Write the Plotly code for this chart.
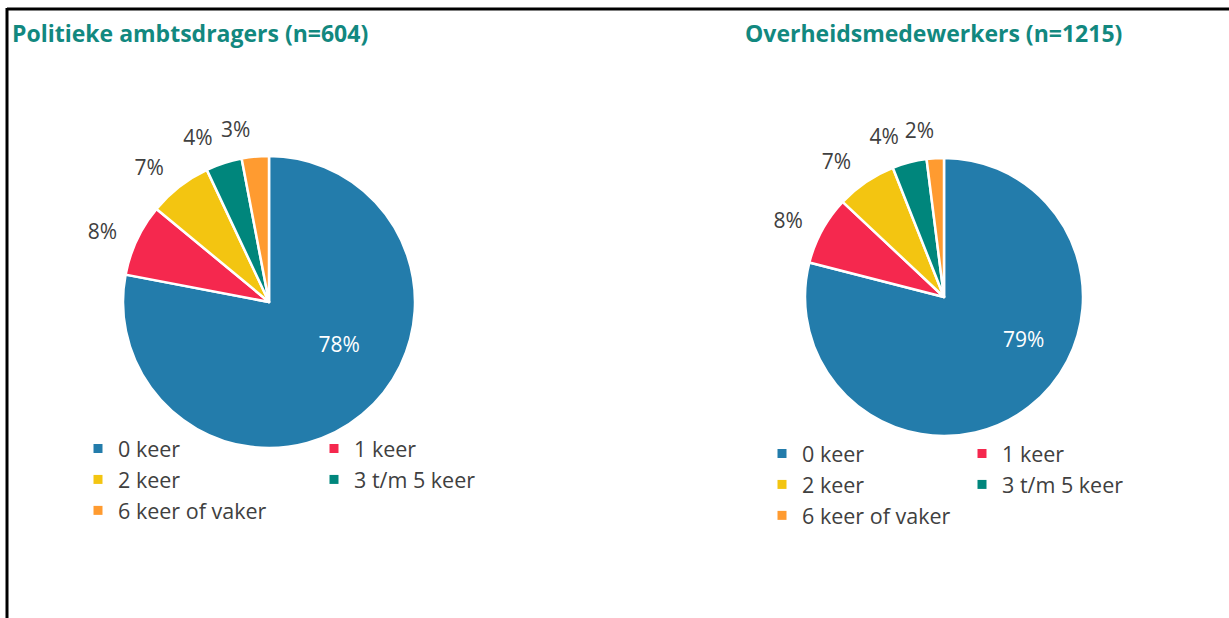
import plotly.graph_objects as go

categories = ["0 keer", "1 keer", "2 keer", "3 t/m 5 keer", "6 keer of vaker"]
politiek_values = [78, 8, 7, 4, 3]
overheid_values = [79, 8, 7, 4, 2]
titles = ["Politieke ambtsdragers (n=604)", "Overheidsmedewerkers (n=1215)"]

colors = ["#237CAB", "#F5284E", "#F3C511", "#00867C", "#FF9B30"]
FONT = "Open Sans"
TXT = "#404040"
TEAL = "#12887F"
W, H = 1229, 618

# layout geometry (pixels): pie centre, radius, outside-label radius,
# inside-label radius and angular offset, small nudge for the last label
pies = [
    dict(cx=269, cy=302, r=146, lab_r=160, in_r=164, in_rot=-19.4, last_rot=1.2, values=politiek_values),
    dict(cx=944, cy=297, r=139, lab_r=153, in_r=180, in_rot=-24.5, last_rot=2.5, values=overheid_values),
]
legend_pos = [dict(x=78 / W, y=1 - 428 / H, ew=191), dict(x=762 / W, y=1 - 433 / H, ew=155)]
legends = ["legend", "legend2"]


def dom(cx, cy, r):
    return dict(x=[(cx - r) / W, (cx + r) / W], y=[1 - (cy + r) / H, 1 - (cy - r) / H])


fig = go.Figure()
clear = ["rgba(0,0,0,0)"] * len(categories)

for i, p in enumerate(pies):
    vals = p["values"]
    # visible pie
    fig.add_trace(go.Pie(
        labels=categories, values=vals, sort=False, direction="clockwise",
        domain=dom(p["cx"], p["cy"], p["r"]),
        marker=dict(colors=colors, line=dict(color="white", width=2.5)),
        textposition="none", showlegend=False, hoverinfo="label+percent",
    ))
    # inside label for the large slice
    fig.add_trace(go.Pie(
        labels=categories, values=vals, sort=False, direction="clockwise",
        rotation=p["in_rot"],
        domain=dom(p["cx"], p["cy"], p["in_r"]),
        marker=dict(colors=clear, line=dict(width=0)),
        texttemplate="%{value}%",
        textposition=["inside"] + ["none"] * (len(categories) - 1),
        insidetextorientation="horizontal",
        insidetextfont=dict(color="white", size=21, family=FONT),
        showlegend=False, hoverinfo="skip",
    ))
    # outside labels, one trace each so they are not pushed apart
    n = len(categories)
    for k in range(1, n):
        tp = ["none"] * n
        tp[k] = "outside"
        fig.add_trace(go.Pie(
            labels=categories, values=vals, sort=False, direction="clockwise",
            rotation=p["last_rot"] if k == n - 1 else 0,
            domain=dom(p["cx"], p["cy"], p["lab_r"]),
            marker=dict(colors=clear, line=dict(width=0)),
            texttemplate="%{value}%", textposition=tp,
            outsidetextfont=dict(color=TXT, size=21, family=FONT),
            showlegend=False, hoverinfo="skip",
        ))
    # legend entries
    for j, c in enumerate(categories):
        fig.add_trace(go.Scatter(
            x=[None], y=[None], mode="markers",
            marker=dict(symbol="square", size=9, color=colors[j]),
            name=c, legend=legends[i], legendgroup=f"p{i}col{j % 2}",
            showlegend=True, hoverinfo="skip",
        ))

leg_common = dict(orientation="h", traceorder="grouped", tracegroupgap=0,
                  xanchor="left", yanchor="top",
                  font=dict(size=21.5, family=FONT, color=TXT), bgcolor="rgba(0,0,0,0)")

fig.update_layout(
    width=W, height=H,
    margin=dict(l=0, r=0, t=0, b=0),
    paper_bgcolor="white", plot_bgcolor="white",
    xaxis=dict(visible=False), yaxis=dict(visible=False),
    font=dict(family=FONT, color=TXT),
    legend=dict(x=legend_pos[0]["x"], y=legend_pos[0]["y"], entrywidth=legend_pos[0]["ew"], **leg_common),
    legend2=dict(x=legend_pos[1]["x"], y=legend_pos[1]["y"], entrywidth=legend_pos[1]["ew"], **leg_common),
    annotations=[
        dict(text=f"<b>{titles[0]}</b>", x=10 / W, y=1 - 33 / H, xref="paper", yref="paper",
             xanchor="left", yanchor="middle", showarrow=False,
             font=dict(size=23, color=TEAL, family=FONT)),
        dict(text=f"<b>{titles[1]}</b>", x=743 / W, y=1 - 33 / H, xref="paper", yref="paper",
             xanchor="left", yanchor="middle", showarrow=False,
             font=dict(size=23, color=TEAL, family=FONT)),
    ],
    shapes=[
        dict(type="line", xref="paper", yref="paper", x0=7 / W, x1=1.01,
             y0=1 - 9 / H, y1=1 - 9 / H, line=dict(color="black", width=3)),
        dict(type="line", xref="paper", yref="paper", x0=7 / W, x1=7 / W,
             y0=1 - 8 / H, y1=-0.01, line=dict(color="black", width=3)),
    ],
)

fig.write_html("out.html", config={"displayModeBar": False},
               post_script="document.body.style.margin='0px';")
